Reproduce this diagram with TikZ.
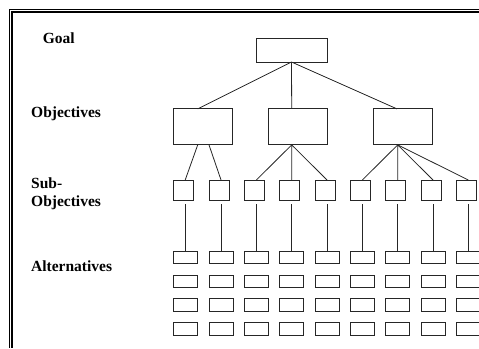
\documentclass[tikz,border=0pt]{standalone}
\usepackage{fontspec}
\setmainfont{Liberation Serif}
\usetikzlibrary{calc}
\begin{document}
\begin{tikzpicture}[x=1pt,y=-1pt,
  box/.style={draw=black!85,line width=0.9pt,inner sep=0pt,outer sep=0pt},
  goalbox/.style={box,minimum width=71pt,minimum height=24pt},
  objbox/.style={box,minimum width=59pt,minimum height=36pt},
  subbox/.style={box,minimum width=20pt,minimum height=20pt},
  altbox/.style={box,minimum width=24pt,minimum height=12.5pt},
  lbl/.style={anchor=base west,inner sep=0pt,font=\fontsize{15.5}{18}\selectfont\bfseries},
  conn/.style={draw=black!85,line width=0.8pt},
  frame/.style={draw=black,line width=1.1pt}]
\useasboundingbox (0,0) rectangle (479,348);
\begin{scope}
\clip (0,0) rectangle (479,348);
% frame
\draw[frame] (479,9.6) -- (9.6,9.6) -- (9.6,348);
\draw[frame] (479,12) -- (12,12) -- (12,348);
% labels
\node[lbl] (lgoal) at (42.7,43.5) {Goal};
\node[lbl] (lobj) at (31,117) {Objectives};
\node[lbl] (lsub) at (31,188.6) {Sub-};
\node[lbl] (lsubb) at (31,206) {Objectives};
\node[lbl] (lalt) at (31,271.6) {Alternatives};
% goal and objectives
\node[goalbox] (g) at (291.5,50) {};
\node[objbox] (o1) at (203.4,126.9) {};
\node[objbox] (o2) at (297.5,126.9) {};
\node[objbox] (o3) at (403.2,126.9) {};
% sub-objectives and alternatives
\foreach \i in {1,...,9} {
  \pgfmathsetmacro{\cx}{185.7+35.33*(\i-1)}
  \node[subbox] (s\i) at (\cx-2,190) {};
  \foreach \j/\yy in {1/257.5,2/281.3,3/304.9,4/328.7} {
    \node[altbox] (a\i-\j) at (\cx,\yy) {};
  }
  \draw[conn] ($(s\i.south -| a\i-1.north)+(0,4)$) -- (a\i-1.north);
}
% goal to objectives
\coordinate (gb) at (g.south);
\draw[conn] (gb) -- ($(o1.north)+(-5.7,0)$);
\draw[conn] (gb) -- ($(o2.north)+(-5.8,0)$);
\draw[conn] (gb) -- ($(o3.north)+(-6.2,0)$);
% objectives to sub-objectives
\draw[conn] ($(o1.south)+(-5.7,0)$) -- ($(s1.north)+(1.5,0)$);
\draw[conn] ($(o1.south)+(5.6,0)$) -- ($(s2.north)+(2,0)$);
\foreach \k in {3,4,5} {
  \draw[conn] ($(o2.south)+(-5.8,0)$) -- ($(s\k.north)+(2,0)$);
}
\foreach \k in {6,7,8,9} {
  \draw[conn] ($(o3.south)+(-5.5,0)$) -- ($(s\k.north)+(2,0)$);
}
\end{scope}
\end{tikzpicture}
\end{document}
